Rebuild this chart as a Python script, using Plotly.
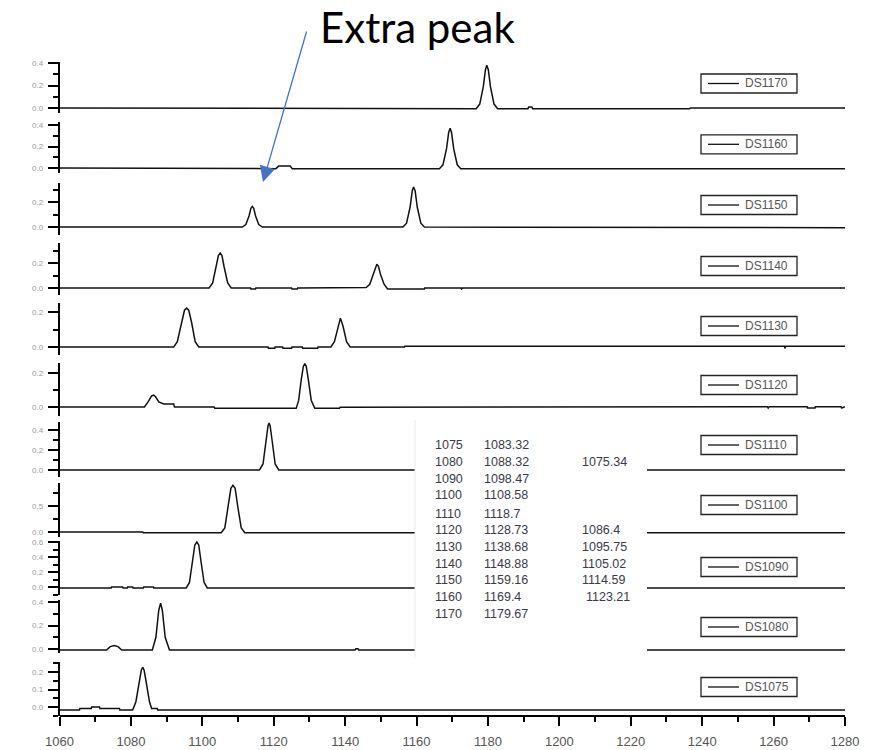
import plotly.graph_objects as go

W, H = 882, 750

# ---------------- data ----------------
series_names = ["DS1170", "DS1160", "DS1150", "DS1140", "DS1130", "DS1120",
                "DS1110", "DS1100", "DS1090", "DS1080", "DS1075"]

ds1170_x = [1060, 1120.2, 1120.4, 1176.7, 1177.7, 1178.7, 1179.3, 1179.67, 1180.1, 1180.7, 1181.7, 1182.7,
            1191.2, 1191.4, 1192.3, 1192.5, 1236.5, 1236.7, 1280]
ds1170_y = [0, 0, -0.006, -0.006, 0.035, 0.19, 0.34, 0.38, 0.34, 0.19, 0.035, -0.006,
            -0.006, 0.008, 0.008, -0.006, -0.006, 0, 0]

ds1160_x = [1060, 1098.6, 1098.8, 1120.6, 1121.4, 1123.2, 1124.6, 1125.2, 1166.4, 1167.4, 1168.4, 1169.0,
            1169.4, 1169.8, 1170.4, 1171.4, 1172.4, 1280]
ds1160_y = [0, 0, -0.006, -0.006, 0.018, 0.02, 0.018, -0.006, -0.006, 0.03, 0.18, 0.33,
            0.37, 0.33, 0.18, 0.03, -0.006, -0.006]

ds1150_x = [1060, 1111.2, 1112.2, 1113.1, 1113.6, 1114.0, 1114.4, 1114.9, 1115.8, 1116.8,
            1156.2, 1157.2, 1158.2, 1158.8, 1159.16, 1159.6, 1160.2, 1161.2, 1162.2, 1203.4, 1203.6, 1280]
ds1150_y = [0, 0, 0.02, 0.09, 0.15, 0.165, 0.15, 0.09, 0.02, 0,
            0, 0.03, 0.16, 0.29, 0.32, 0.29, 0.16, 0.03, 0, 0, -0.005, -0.005]

ds1140_x = [1060, 1101.9, 1102.9, 1103.9, 1104.5, 1105.02, 1105.5, 1106.1, 1107.1, 1108.1,
            1113.5, 1113.6, 1114.9, 1115.0, 1125.0, 1125.1, 1126.6, 1126.7,
            1144.5, 1145.9, 1146.9, 1147.9, 1148.5, 1148.88, 1149.3, 1149.9, 1150.9, 1151.9,
            1162.2, 1162.3, 1172.4, 1172.6, 1172.8, 1280]
ds1140_y = [0, 0, 0.04, 0.17, 0.26, 0.28, 0.26, 0.17, 0.04, 0,
            0, -0.008, -0.008, 0, 0, -0.008, -0.008, 0,
            0, 0.004, 0.03, 0.11, 0.175, 0.19, 0.175, 0.11, 0.03, -0.008,
            -0.008, 0, 0, -0.008, 0, 0]

ds1130_x = [1060, 1092.0, 1093.0, 1094.2, 1095.0, 1095.6, 1096.2, 1097.0, 1098.0, 1099.0,
            1118.4, 1118.5, 1120.3, 1120.4, 1122.5, 1122.6, 1125.0, 1125.1, 1128.0, 1128.1, 1132.3, 1132.4,
            1136.0, 1137.0, 1138.0, 1138.68, 1139.4, 1140.4, 1141.4, 1156.6, 1156.7,
            1263.0, 1263.2, 1263.4, 1280]
ds1130_y = [0, 0, 0.03, 0.14, 0.21, 0.222, 0.21, 0.14, 0.03, 0,
            0, -0.007, -0.007, 0, 0, -0.007, -0.007, 0, 0, -0.007, -0.007, 0,
            0, 0.03, 0.12, 0.165, 0.12, 0.03, 0, 0, 0.005,
            0.005, -0.008, 0.005, 0.005]

ds1120_x = [1060, 1083.8, 1084.8, 1085.8, 1086.4, 1086.9, 1087.8, 1088.9, 1089.2, 1092.0, 1092.2,
            1103.3, 1103.5, 1126.3, 1127.0, 1127.7, 1128.3, 1128.73, 1129.1, 1129.7, 1130.5, 1131.5,
            1138.4, 1138.6, 1144.4, 1144.6, 1258.3, 1258.5, 1258.8, 1269.4, 1269.5, 1271.6, 1271.7,
            1278.9, 1279.1, 1280]
ds1120_y = [0, 0, 0.03, 0.065, 0.07, 0.06, 0.03, 0.02, 0.018, 0.018, 0,
            0, -0.008, -0.008, 0.04, 0.16, 0.24, 0.255, 0.24, 0.16, 0.04, -0.008,
            -0.008, -0.002, -0.002, 0.002, 0.002, -0.006, 0.002, 0.002, -0.006, -0.006, 0.002,
            0.002, -0.006, 0.002]

ds1110_x = [1060, 1116.0, 1117.0, 1117.8, 1118.4, 1118.7, 1119.0, 1119.6, 1120.4, 1121.4, 1280]
ds1110_y = [0, 0, 0.06, 0.28, 0.44, 0.47, 0.44, 0.28, 0.06, 0, 0]

ds1100_x = [1060, 1083.3, 1083.5, 1105.3, 1106.3, 1107.3, 1108.0, 1108.58, 1109.2, 1109.9, 1110.9, 1111.9, 1280]
ds1100_y = [0, 0, -0.015, -0.015, 0.08, 0.5, 0.84, 0.9, 0.84, 0.5, 0.08, -0.015, -0.015]

ds1090_x = [1060, 1074.5, 1074.6, 1077.7, 1077.8, 1079.0, 1079.1, 1080.5, 1080.6, 1083.5, 1083.6, 1086.3, 1086.4,
            1095.5, 1096.4, 1097.3, 1097.9, 1098.47, 1099.0, 1099.6, 1100.5, 1101.4, 1280]
ds1090_y = [-0.012, -0.012, 0, 0, -0.012, -0.012, 0, 0, -0.012, -0.012, 0, 0, -0.012,
            -0.012, 0.06, 0.35, 0.56, 0.6, 0.56, 0.35, 0.06, -0.012, -0.012]

ds1080_x = [1060, 1073.2, 1074.2, 1075.34, 1076.4, 1077.4, 1086.0, 1087.0, 1087.8, 1088.32, 1088.8, 1089.6, 1090.8,
            1142.8, 1143.0, 1143.6, 1143.8, 1280]
ds1080_y = [-0.008, -0.008, 0.02, 0.03, 0.02, -0.008, -0.008, 0.1, 0.33, 0.39, 0.33, 0.1, -0.008,
            -0.008, 0.002, 0.002, -0.008, -0.008]

ds1075_x = [1060, 1065.6, 1065.7, 1068.9, 1069.0, 1071.2, 1071.3, 1076.8, 1076.9, 1080.5, 1081.4, 1082.3, 1082.9,
            1083.32, 1083.7, 1084.3, 1085.2, 1085.8, 1087.4, 1087.5, 1280]
ds1075_y = [-0.017, -0.017, -0.008, -0.008, 0, 0, -0.008, -0.008, -0.017, -0.017, 0.03, 0.14, 0.21,
            0.227, 0.21, 0.14, 0.03, -0.008, -0.008, -0.017, -0.017]

series_x = [ds1170_x, ds1160_x, ds1150_x, ds1140_x, ds1130_x, ds1120_x,
            ds1110_x, ds1100_x, ds1090_x, ds1080_x, ds1075_x]
series_y = [ds1170_y, ds1160_y, ds1150_y, ds1140_y, ds1130_y, ds1120_y,
            ds1110_y, ds1100_y, ds1090_y, ds1080_y, ds1075_y]

table_col1 = ["1075", "1080", "1090", "1100", "1110", "1120", "1130", "1140", "1150", "1160", "1170"]
table_col2 = ["1083.32", "1088.32", "1098.47", "1108.58", "1118.7", "1128.73", "1138.68",
              "1148.88", "1159.16", "1169.4", "1179.67"]
table_col3 = ["", "1075.34", "", "", "", "1086.4", "1095.75", "1105.02", "1114.59", "1123.21", ""]

annotation_text = "Extra peak"

# ---------------- layout geometry (pixels) ----------------
# top, bottom, zero-line pixel, pixels per unit, major dtick, minor dtick, legend centre
panel_geom = [
    (62, 113, 108, 112.5, 0.2, 0.1, 83.5),
    (122, 173, 168, 107.5, 0.2, 0.1, 144.3),
    (183, 235, 227, 125, 0.2, 0.1, 205),
    (243, 295, 288, 125, 0.2, 0.1, 266),
    (303, 355, 347, 175, 0.2, 0.1, 326),
    (363, 416, 407, 170, 0.2, 0.1, 385),
    (422, 477, 470, 100, 0.2, 0.1, 445),
    (483, 537, 532, 52, 0.5, 0.25, 505),
    (541, 595, 587, 75, 0.2, 0.1, 567),
    (600, 653, 649, 117.5, 0.2, 0.1, 627),
    (662, 716, 707, 175, 0.1, 0.05, 687),
]

X0_PX, X1_PX = 59.5, 845


def pxx(v):
    return v / W


def pxy(v):
    return 1 - v / H


fig = go.Figure()
shapes = []
annotations = []

for i, name in enumerate(series_names):
    top, bot, zero, scale, dt, mdt, lc = panel_geom[i]
    suffix = "" if i == 0 else str(i + 1)
    fig.add_trace(go.Scatter(
        x=series_x[i], y=series_y[i], mode="lines", name=name,
        line=dict(color="#111111", width=1.5),
        xaxis="x", yaxis="y" + suffix, showlegend=False, hoverinfo="skip",
    ))
    fig.update_layout(**{
        "yaxis" + suffix: dict(
            domain=[pxy(bot), pxy(top)],
            range=[-(bot - zero) / scale, (zero - top) / scale],
            anchor="x", showline=True, linecolor="black", linewidth=1.5,
            ticks="outside", ticklen=10, tickwidth=1.5, tickcolor="black",
            tick0=0, dtick=dt, tickformat=".1f",
            tickfont=dict(size=8, color="#9a9a9a", family="Liberation Sans"),
            ticklabelstandoff=3, automargin=False,
            showgrid=False, zeroline=False, fixedrange=True,
            minor=dict(tick0=0, dtick=mdt, ticks="outside", ticklen=5,
                       tickwidth=1.5, tickcolor="black", showgrid=False),
        )
    })
    # legend box
    shapes.append(dict(type="rect", xref="paper", yref="paper",
                       x0=pxx(701), x1=pxx(797), y0=pxy(lc + 9.5), y1=pxy(lc - 9.5),
                       line=dict(color="#222222", width=1.3), fillcolor="white", layer="above"))
    shapes.append(dict(type="line", xref="paper", yref="paper",
                       x0=pxx(708), x1=pxx(739), y0=pxy(lc), y1=pxy(lc),
                       line=dict(color="#111111", width=1.3), layer="above"))
    annotations.append(dict(text=name, xref="paper", yref="paper", x=pxx(743), y=pxy(lc),
                            xanchor="left", yanchor="middle", showarrow=False,
                            font=dict(size=12, color="#555555", family="Liberation Sans")))

# table (white box pasted over the middle panels)
shapes.append(dict(type="rect", xref="paper", yref="paper",
                   x0=pxx(415), x1=pxx(647), y0=pxy(657), y1=pxy(420),
                   line=dict(width=0), fillcolor="white", layer="above"))
shapes.append(dict(type="line", xref="paper", yref="paper",
                   x0=pxx(415), x1=pxx(415), y0=pxy(657), y1=pxy(420),
                   line=dict(color="#ececec", width=1), layer="above"))
row_y = [445, 462, 478.7, 495.3, 513.7, 530.3, 547, 563.7, 580.3, 597, 613.7]
tfont = dict(size=12.5, color="#3a3a4a", family="Liberation Sans")
for r in range(len(table_col1)):
    annotations.append(dict(text=table_col1[r], xref="paper", yref="paper", x=pxx(432.5), y=pxy(row_y[r]),
                            xanchor="left", yanchor="middle", showarrow=False, font=tfont))
    annotations.append(dict(text=table_col2[r], xref="paper", yref="paper", x=pxx(482.5), y=pxy(row_y[r]),
                            xanchor="left", yanchor="middle", showarrow=False, font=tfont))
    if table_col3[r]:
        x3 = 583.5 if table_col3[r] == "1123.21" else 580
        annotations.append(dict(text=table_col3[r], xref="paper", yref="paper", x=pxx(x3), y=pxy(row_y[r]),
                                xanchor="left", yanchor="middle", showarrow=False, font=tfont))

# "Extra peak" callout
annotations.append(dict(text=annotation_text, xref="paper", yref="paper", x=pxx(318), y=pxy(27),
                        xanchor="left", yanchor="middle", showarrow=False,
                        font=dict(size=42, color="#000000", family="Lato")))
annotations.append(dict(text="", xref="paper", yref="paper", x=pxx(263), y=pxy(182),
                        ax=44, ay=-152, showarrow=True, arrowhead=2, arrowsize=2.4,
                        arrowwidth=1.3, arrowcolor="#4472C4"))

fig.update_layout(
    width=W, height=H, margin=dict(l=0, r=0, t=0, b=0, autoexpand=False),
    paper_bgcolor="white", plot_bgcolor="white",
    xaxis=dict(domain=[pxx(X0_PX), pxx(X1_PX)], range=[1060, 1280], anchor="free", position=pxy(716),
               showline=True, linecolor="black", linewidth=1.5,
               ticks="outside", ticklen=9, tickwidth=1.5, tickcolor="black",
               tick0=1060, dtick=20, ticklabelstandoff=5, automargin=False,
               tickfont=dict(size=13, color="#555555", family="Liberation Sans"),
               showgrid=False, zeroline=False, fixedrange=True,
               minor=dict(tick0=1060, dtick=10, ticks="outside", ticklen=5, tickwidth=1.5,
                          tickcolor="black", showgrid=False)),
    shapes=shapes, annotations=annotations,
)

fig.write_html("out.html", config={"displayModeBar": False},
               post_script="document.body.style.margin='0';document.body.style.overflow='hidden';")
